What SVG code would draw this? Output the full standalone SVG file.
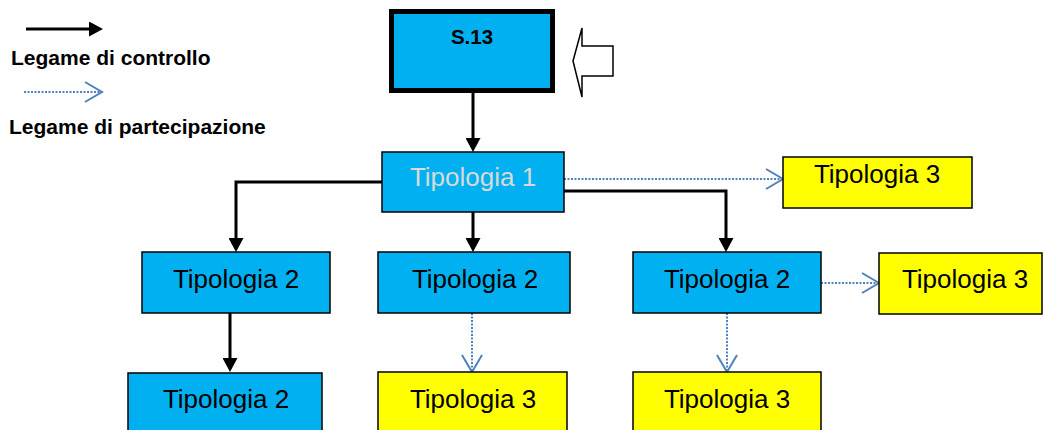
<svg xmlns="http://www.w3.org/2000/svg" width="1044" height="430" viewBox="0 0 1044 430">
<style>
.box{stroke:#000;stroke-width:1.5}
.blue{fill:#00B0F0}
.yellow{fill:#FFFF00}
.lbl{font-family:"Liberation Sans",Arial,sans-serif;font-size:26px;fill:#000;text-anchor:middle}
.leg{font-family:"Liberation Sans",Arial,sans-serif;font-size:21px;font-weight:bold;fill:#000}
.ctrl{stroke:#000;stroke-width:3;fill:none;marker-end:url(#solid)}
.part{stroke:#4F81BD;stroke-width:2;stroke-dasharray:2 1.5;fill:none;marker-end:url(#open)}
</style>
<defs>
<marker id="solid" viewBox="0 0 14 15" refX="0" refY="7.5" markerWidth="14" markerHeight="15" markerUnits="userSpaceOnUse" orient="auto">
<path d="M0,0 L14,7.5 L0,15 Z" fill="#000"/>
</marker>
<marker id="open" viewBox="-1 -1 20 22" refX="17" refY="10" markerWidth="20" markerHeight="22" markerUnits="userSpaceOnUse" orient="auto">
<path d="M0,0 L17,10 L0,20" fill="none" stroke="#4F81BD" stroke-width="2"/>
</marker>
</defs>
<g id="legend">
<line x1="26" y1="29" x2="89" y2="29" class="ctrl"/>
<text x="11" y="65" class="leg">Legame di controllo</text>
<line x1="24" y1="92" x2="102" y2="92" class="part"/>
<text x="9" y="134" class="leg">Legame di partecipazione</text>
</g>
<g id="connectors">
<line x1="473" y1="93" x2="473" y2="138" class="ctrl"/>
<polyline points="382,182 236,182 236,238" class="ctrl"/>
<line x1="473" y1="212" x2="473" y2="238" class="ctrl"/>
<polyline points="564,191 726,191 726,238" class="ctrl"/>
<line x1="230" y1="313" x2="230" y2="358" class="ctrl"/>
<line x1="564" y1="179" x2="783" y2="179" class="part"/>
<line x1="821" y1="283" x2="879" y2="283" class="part"/>
<line x1="472" y1="313" x2="472" y2="372" class="part"/>
<line x1="727" y1="313" x2="727" y2="372" class="part"/>
</g>
<g id="input-arrow">
<path d="M573,61 L582,28 L582,46 L613,46 L613,76 L582,76 L582,97 Z" fill="#fff" stroke="#000" stroke-width="1.5"/>
</g>
<g id="s13">
<rect x="391.5" y="11.5" width="161" height="79" fill="#00B0F0" stroke="#000" stroke-width="5"/>
<text x="472" y="44" font-family="Liberation Sans,Arial,sans-serif" font-size="20.5" font-weight="bold" text-anchor="middle">S.13</text>
</g>
<g id="t1">
<rect x="382" y="152" width="182" height="60" class="box blue"/>
<text x="473" y="186" class="lbl" style="fill:#D9D9D9">Tipologia 1</text>
</g>
<g id="t3-top">
<rect x="783" y="157" width="189" height="51" class="box yellow"/>
<text x="877" y="183" class="lbl">Tipologia 3</text>
</g>
<g id="t2-left">
<rect x="142" y="252" width="188" height="61" class="box blue"/>
<text x="236" y="288" class="lbl">Tipologia 2</text>
</g>
<g id="t2-mid">
<rect x="378" y="252" width="192" height="61" class="box blue"/>
<text x="475" y="288" class="lbl">Tipologia 2</text>
</g>
<g id="t2-right">
<rect x="633" y="252" width="188" height="61" class="box blue"/>
<text x="727" y="288" class="lbl">Tipologia 2</text>
</g>
<g id="t3-right">
<rect x="879" y="253" width="163" height="61" class="box yellow"/>
<text x="965" y="288" class="lbl">Tipologia 3</text>
</g>
<g id="t2-bottom">
<rect x="128" y="373" width="194" height="70" class="box blue"/>
<text x="226" y="408" class="lbl">Tipologia 2</text>
</g>
<g id="t3-bottom-mid">
<rect x="378" y="372" width="189" height="70" class="box yellow"/>
<text x="473" y="408" class="lbl">Tipologia 3</text>
</g>
<g id="t3-bottom-right">
<rect x="633" y="372" width="188" height="70" class="box yellow"/>
<text x="727" y="408" class="lbl">Tipologia 3</text>
</g>
</svg>
